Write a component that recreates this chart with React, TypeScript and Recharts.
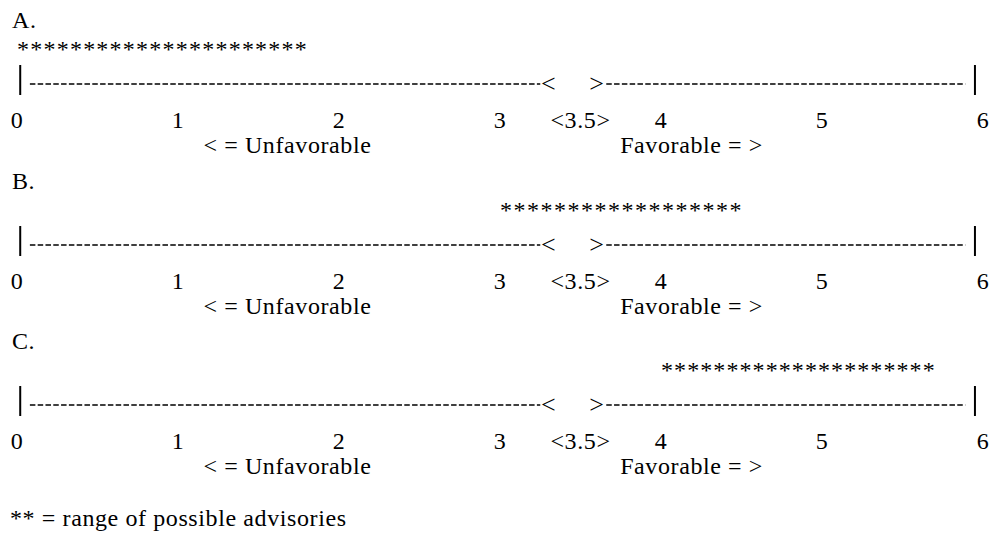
import React from "react";
import {
  ComposedChart,
  ReferenceArea,
  ReferenceDot,
  ReferenceLine,
  Scatter,
  XAxis,
  YAxis,
} from "recharts";

// scale 0..6, with 3.5 as the neutral point
const panelLetters = ["A.", "B.", "C."];
const starFrom = [0, 3.0, 4.0];
const starTo = [1.8, 4.5, 5.7];

const tickValues = [0, 1, 2, 3, 3.5, 4, 5, 6];
const tickText = ["0", "1", "2", "3", "<3.5>", "4", "5", "6"];

const sideLabelAt = [1.68, 4.19];
const sideLabels = ["< = Unfavorable", "Favorable = >"];

const footnote = "** = range of possible advisories";

const FONT = '"Liberation Serif", "Times New Roman", serif';
const FS = 24;
const LS = 0.6;
const INK = "#000";
const W = 993;
const PANEL_H = 160;
const PANEL_STEP = 160.5;

// vertical levels inside the plot (domain 0..1)
const STAR_Y = 0.82;
const SCALE_Y = 0.242;
const BAR_LO = 0.076;
const BAR_HI = 0.53;

const StarRun = (props: any) => {
  const { x, y, width, height } = props;
  const n = Math.max(1, Math.round(width / 13.3));
  return (
    <text
      x={x}
      y={y + height / 2}
      dy="0.47em"
      fontFamily={FONT}
      fontSize={FS}
      textLength={width}
      lengthAdjust="spacing"
      fill={INK}
    >
      {"*".repeat(n)}
    </text>
  );
};

const glyph = (ch: string) => (props: any) => (
  <text
    x={props.cx}
    y={props.cy}
    dy="0.3em"
    textAnchor="middle"
    fontFamily={FONT}
    fontSize={26}
    fill={INK}
  >
    {ch}
  </text>
);

const NumTick = (props: any) => {
  const { x, y, payload } = props;
  const i = tickValues.indexOf(payload.value);
  return (
    <text
      x={x}
      y={y + 28}
      textAnchor="middle"
      fontFamily={FONT}
      fontSize={FS}
      letterSpacing={LS}
      fill={INK}
    >
      {i >= 0 ? tickText[i] : ""}
    </text>
  );
};

const SideTick = (props: any) => {
  const { x, y, payload } = props;
  const i = sideLabelAt.indexOf(payload.value);
  return (
    <text
      x={x}
      y={y + 23}
      textAnchor="middle"
      fontFamily={FONT}
      fontSize={FS}
      letterSpacing={LS}
      fill={INK}
    >
      {i >= 0 ? sideLabels[i] : ""}
    </text>
  );
};

function Panel({ idx }: { idx: number }) {
  const pts = tickValues.map((v) => ({ v, y: SCALE_Y }));
  return (
    <div
      style={{
        position: "absolute",
        left: 0,
        top: idx * PANEL_STEP,
        width: W,
        height: PANEL_H,
      }}
    >
      <div
        style={{
          position: "absolute",
          left: 12,
          top: 8,
          fontFamily: FONT,
          fontSize: FS,
          lineHeight: 1,
          letterSpacing: LS,
          color: INK,
        }}
      >
        {panelLetters[idx]}
      </div>
      <ComposedChart
        width={W}
        height={PANEL_H}
        data={pts}
        margin={{ top: 34, right: 10, left: 17, bottom: 0 }}
      >
        <XAxis
          xAxisId="num"
          dataKey="v"
          type="number"
          domain={[0, 6]}
          ticks={tickValues}
          interval={0}
          axisLine={false}
          tickLine={false}
          tickSize={0}
          tickMargin={0}
          height={30}
          tick={<NumTick />}
        />
        <XAxis
          xAxisId="side"
          dataKey="v"
          type="number"
          domain={[0, 6]}
          ticks={sideLabelAt}
          interval={0}
          axisLine={false}
          tickLine={false}
          tickSize={0}
          tickMargin={0}
          height={30}
          tick={<SideTick />}
        />
        <YAxis type="number" domain={[0, 1]} hide />
        <Scatter
          xAxisId="num"
          dataKey="y"
          fill="none"
          shape={() => <g />}
          isAnimationActive={false}
        />
        <ReferenceArea
          xAxisId="num"
          x1={starFrom[idx]}
          x2={starTo[idx]}
          y1={STAR_Y - 0.05}
          y2={STAR_Y + 0.05}
          shape={<StarRun />}
        />
        <ReferenceLine
          xAxisId="num"
          segment={[
            { x: 0.02, y: BAR_LO },
            { x: 0.02, y: BAR_HI },
          ]}
          stroke={INK}
          strokeWidth={2}
        />
        <ReferenceLine
          xAxisId="num"
          segment={[
            { x: 5.95, y: BAR_LO },
            { x: 5.95, y: BAR_HI },
          ]}
          stroke={INK}
          strokeWidth={2}
        />
        <ReferenceLine
          xAxisId="num"
          segment={[
            { x: 0.08, y: SCALE_Y },
            { x: 3.25, y: SCALE_Y },
          ]}
          stroke={INK}
          strokeWidth={1.5}
          strokeDasharray="5.5 2.3"
        />
        <ReferenceLine
          xAxisId="num"
          segment={[
            { x: 3.66, y: SCALE_Y },
            { x: 5.89, y: SCALE_Y },
          ]}
          stroke={INK}
          strokeWidth={1.5}
          strokeDasharray="5.5 2.3"
        />
        <ReferenceDot xAxisId="num" x={3.3} y={SCALE_Y} shape={glyph("<")} />
        <ReferenceDot xAxisId="num" x={3.6} y={SCALE_Y} shape={glyph(">")} />
      </ComposedChart>
    </div>
  );
}

export default function App() {
  return (
    <div
      style={{
        position: "absolute",
        left: 0,
        top: 0,
        width: W,
        height: 543,
        background: "#fff",
        overflow: "hidden",
      }}
    >
      {panelLetters.map((_, i) => (
        <Panel key={i} idx={i} />
      ))}
      <div
        style={{
          position: "absolute",
          left: 10,
          top: 506,
          fontFamily: FONT,
          fontSize: FS,
          lineHeight: 1,
          letterSpacing: LS,
          color: INK,
        }}
      >
        {footnote}
      </div>
    </div>
  );
}
